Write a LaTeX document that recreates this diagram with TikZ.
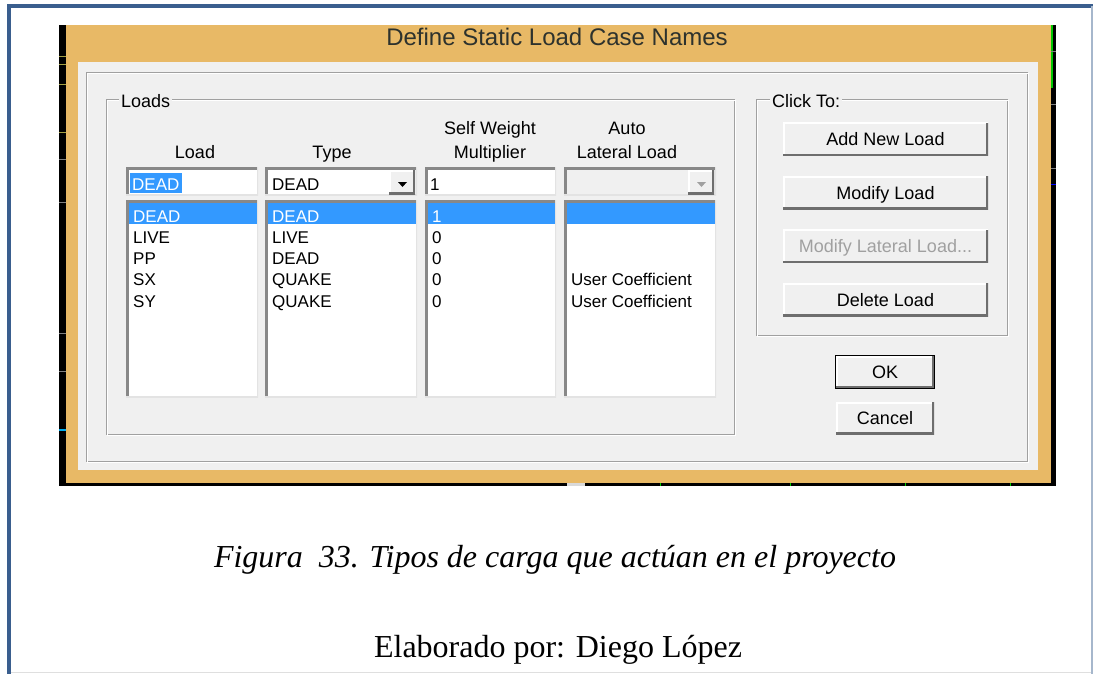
\documentclass[tikz,border=0pt]{standalone}
\usepackage{fontspec}
\setmainfont{Liberation Serif}
\newfontfamily\uisans{Liberation Sans}
\usepackage{tikz}
\usetikzlibrary{positioning}
\definecolor{frameblue}{RGB}{58, 94, 142}
\definecolor{winorange}{RGB}{232, 185, 102}
\definecolor{winface}{RGB}{240, 240, 240}
\definecolor{winshade}{RGB}{160, 160, 160}
\definecolor{windark}{RGB}{110, 110, 110}
\definecolor{winlite}{RGB}{227, 227, 227}
\definecolor{selblue}{RGB}{51, 153, 255}
\definecolor{titletext}{RGB}{45, 50, 45}
\definecolor{scrgreen}{RGB}{0, 200, 0}

\begin{document}
\begin{tikzpicture}[x=1pt, y=-1pt,
  ui/.style={font=\uisans\fontsize{18pt}{20pt}\selectfont, inner sep=0pt},
  cell/.style={font=\uisans\fontsize{17pt}{19pt}\selectfont, inner sep=0pt, anchor=base west},
  hdr/.style={ui, anchor=base},
  grplbl/.style={ui, fill=winface, inner xsep=2pt, anchor=base west},
  sunk/.style={fill=white, path picture={
    \draw[winshade!85!black, line width=5pt] (path picture bounding box.south west)
      -- (path picture bounding box.north west) -- (path picture bounding box.north east);
    \draw[winlite, line width=3pt] (path picture bounding box.north east)
      -- (path picture bounding box.south east) -- (path picture bounding box.south west);}},
  btn/.style={ui, fill=winface, text height=13pt, text depth=0pt, path picture={
    \draw[white, line width=3pt] (path picture bounding box.south west)
      -- (path picture bounding box.north west) -- (path picture bounding box.north east);
    \draw[windark, line width=4pt] (path picture bounding box.north east)
      -- (path picture bounding box.south east) -- (path picture bounding box.south west);}},
  etch/.style={draw=winshade, line width=1pt},
  etchlite/.style={draw=white, line width=1pt}
]
\useasboundingbox (0,0) rectangle (1095,674);
\fill[white] (0,0) rectangle (1095,674);
% page frame
\draw[frameblue, line width=4pt] (9,674) -- (9,6) -- (1093,6);
\draw[frameblue!45, line width=1.5pt] (1092,6) -- (1092,674);
\draw[gray!25, line width=1pt] (11,672.5) -- (1091,672.5);

% screenshot: black edges of the program behind
\fill[black] (59,25) rectangle (1056,486);
\draw[yellow!60!black, line width=1pt] (59,57) -- (66,57) (59,65) -- (66,65) (59,85) -- (66,85) (59,133) -- (66,133);
\draw[gray, line width=1pt] (59,160) -- (66,160) (59,202) -- (66,202) (59,333) -- (66,333) (59,371) -- (66,371);
\draw[cyan, line width=1.5pt] (59,430) -- (66,430);
\draw[scrgreen, line width=1.5pt] (1052,25) -- (1052,88);
\draw[gray, line width=1pt] (1051,52) -- (1056,52) (1051,105) -- (1056,105) (1051,168) -- (1056,168);
\draw[blue, line width=1pt] (1051,184) -- (1056,184);
\fill[gray!30] (567,483) rectangle (585,486);
\draw[scrgreen, line width=1pt] (660,483) -- (660,486) (790,483) -- (790,486) (905,483) -- (905,486) (1010,483) -- (1010,486);

% dialog window
\fill[winorange] (66,25) rectangle (1051,483);
\node[font=\uisans\fontsize{24pt}{26pt}\selectfont, text=titletext, anchor=base, inner sep=0pt]
  (ttl) at (557,46) {Define Static Load Case Names};
\fill[winface] (78,62) rectangle (1038,470);
\draw[etch] (86,73) rectangle (1027,461);
\draw[etchlite] (87,74) rectangle (1028,462);

% Loads group
\draw[etch] (106,100) rectangle (734,434);
\draw[etchlite] (107,101) rectangle (735,435);
\node[grplbl] (grpld) at (119,108) {Loads};
\node[hdr] (hdload) at (195,158) {Load};
\node[hdr] (hdtype) at (332,158) {Type};
\node[hdr] (hdself) at (490,135) {Self Weight};
\node[hdr] (hdmult) at (490,158) {Multiplier};
\node[hdr] (hdauto) at (627,135) {Auto};
\node[hdr] (hdlat) at (627,158) {Lateral Load};

% edit row
\path[sunk] (126,167) rectangle (258,195);
\fill[selblue] (130,173) rectangle (182,193);
\node[cell, text=white] (edload) at (132,190) {DEAD};
\path[sunk] (265,167) rectangle (417,195);
\node[cell] (edtype) at (272,190) {DEAD};
\path[btn] (389,170) rectangle (415,194);
\fill[black] (398,182) -- (407,182) -- (402.5,187) -- cycle;
\path[sunk] (425,167) rectangle (556,195);
\node[cell] (edmult) at (430,190) {1};
\path[sunk, fill=winface] (564,167) rectangle (716,195);
\path[btn] (688,170) rectangle (714,194);
\fill[winshade] (697,182) -- (706,182) -- (701.5,187) -- cycle;

% list boxes
\path[sunk] (126,200) rectangle (258,397);
\path[sunk] (265,200) rectangle (417,397);
\path[sunk] (425,200) rectangle (556,397);
\path[sunk] (564,200) rectangle (716,397);
\fill[selblue] (129,203) rectangle (257,224);
\fill[selblue] (268,203) rectangle (416,224);
\fill[selblue] (428,203) rectangle (555,224);
\fill[selblue] (567,203) rectangle (715,224);

% Load column
\node[cell, text=white] (ld1) at (133,222) {DEAD};
\node[cell] (ld2) at (133,243.25) {LIVE};
\node[cell] (ld3) at (133,264.5) {PP};
\node[cell] (ld4) at (133,285.75) {SX};
\node[cell] (ld5) at (133,307) {SY};
% Type column
\node[cell, text=white] (ty1) at (272,222) {DEAD};
\node[cell] (ty2) at (272,243.25) {LIVE};
\node[cell] (ty3) at (272,264.5) {DEAD};
\node[cell] (ty4) at (272,285.75) {QUAKE};
\node[cell] (ty5) at (272,307) {QUAKE};
% Multiplier column
\node[cell, text=white] (mu1) at (432,222) {1};
\node[cell] (mu2) at (432,243.25) {0};
\node[cell] (mu3) at (432,264.5) {0};
\node[cell] (mu4) at (432,285.75) {0};
\node[cell] (mu5) at (432,307) {0};
% Auto lateral column
\node[cell] (au4) at (571,285.75) {User Coefficient};
\node[cell] (au5) at (571,307) {User Coefficient};

% Click To group
\draw[etch] (756,100) rectangle (1007,335);
\draw[etchlite] (757,101) rectangle (1008,336);
\node[grplbl] (grpck) at (770,108) {Click To:};
\node[btn, minimum width=205pt, minimum height=33pt] (btnadd) at (885.5,139.5) {Add New Load};
\node[btn, minimum width=205pt, minimum height=33pt] (btnmod) at (885.5,192.5) {Modify Load};
\node[btn, minimum width=205pt, minimum height=33pt, text=winshade] (btnlat) at (885.5,246) {Modify Lateral Load...};
\node[btn, minimum width=205pt, minimum height=33pt] (btndel) at (885.5,299.5) {Delete Load};

% OK / Cancel
\node[btn, minimum width=98pt, minimum height=32pt] (btnok) at (885,372) {OK};
\draw[black, line width=1pt] (btnok.south west) rectangle (btnok.north east);
\node[btn, minimum width=98pt, minimum height=32pt] (btncan) at (885,418) {Cancel};

% caption
\node[font=\fontsize{32pt}{36pt}\selectfont\itshape, anchor=base, inner sep=0pt]
  (cap) at (555,567) {Figura\ \ 33. Tipos de carga que actúan en el proyecto};
\node[font=\fontsize{32pt}{36pt}\selectfont, anchor=base, inner sep=0pt]
  (auth) at (558,657) {Elaborado por: Diego López};
\end{tikzpicture}
\end{document}
